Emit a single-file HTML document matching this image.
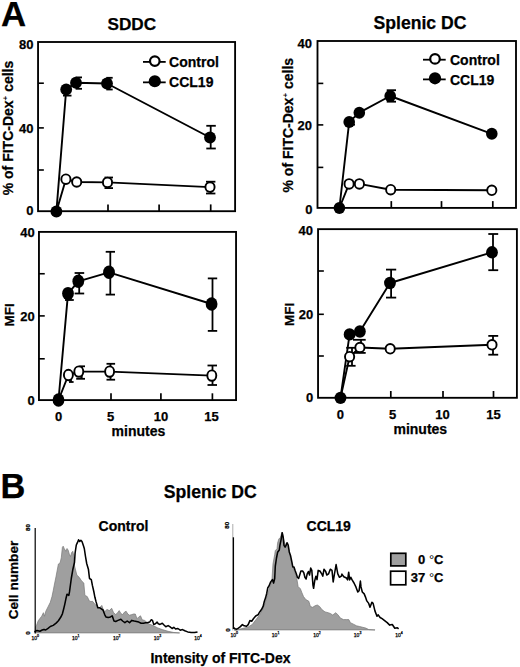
<!DOCTYPE html>
<html><head><meta charset="utf-8"><style>
html,body{margin:0;padding:0;background:#fff;}
body{width:520px;height:667px;overflow:hidden;}
svg{display:block;}
</style></head><body>
<svg width="520" height="667" viewBox="0 0 520 667">
<g font-family='"Liberation Sans", sans-serif' fill="#000">
<style>text{stroke:#000;stroke-width:0.25px;paint-order:stroke;}</style>
<text x="1.0" y="25.8" font-size="34.8" text-anchor="start" font-weight="bold">A</text>
<text x="0.6" y="498.3" font-size="34.4" text-anchor="start" font-weight="bold">B</text>
<text x="131.8" y="30" font-size="17.2" text-anchor="middle" font-weight="bold">SDDC</text>
<text x="420" y="28.6" font-size="17.6" text-anchor="middle" font-weight="bold">Splenic DC</text>
<line x1="38.05" y1="170" x2="43.849999999999994" y2="170" stroke="#000" stroke-width="1.6"/>
<line x1="38.05" y1="127.9" x2="43.849999999999994" y2="127.9" stroke="#000" stroke-width="1.6"/>
<line x1="38.05" y1="83.2" x2="43.849999999999994" y2="83.2" stroke="#000" stroke-width="1.6"/>
<line x1="108" y1="211.2" x2="108" y2="204.39999999999998" stroke="#000" stroke-width="1.7"/>
<line x1="159.1" y1="211.2" x2="159.1" y2="204.39999999999998" stroke="#000" stroke-width="1.7"/>
<line x1="210.7" y1="211.2" x2="210.7" y2="204.39999999999998" stroke="#000" stroke-width="1.7"/>
<rect x="38.05" y="42" width="197.05" height="169.20" fill="none" stroke="#000" stroke-width="1.85"/>
<text x="33.5" y="48.6" font-size="13" text-anchor="end" font-weight="bold">80</text>
<text x="33.5" y="132.7" font-size="13" text-anchor="end" font-weight="bold">40</text>
<text x="33.5" y="215.4" font-size="13" text-anchor="end" font-weight="bold">0</text>
<line x1="67" y1="84" x2="67" y2="95.6" stroke="#000" stroke-width="1.8"/>
<line x1="63" y1="95.6" x2="71.5" y2="95.6" stroke="#000" stroke-width="1.8"/>
<line x1="78" y1="77.4" x2="78" y2="88.8" stroke="#000" stroke-width="1.8"/>
<line x1="75.6" y1="77.4" x2="82" y2="77.4" stroke="#000" stroke-width="1.8"/>
<line x1="75.6" y1="88.8" x2="82" y2="88.8" stroke="#000" stroke-width="1.8"/>
<line x1="109.5" y1="77.8" x2="109.5" y2="89.5" stroke="#000" stroke-width="1.8"/>
<line x1="106.3" y1="77.8" x2="112.7" y2="77.8" stroke="#000" stroke-width="1.8"/>
<line x1="106.3" y1="89.5" x2="112.7" y2="89.5" stroke="#000" stroke-width="1.8"/>
<line x1="210.7" y1="125.8" x2="210.7" y2="148.5" stroke="#000" stroke-width="1.8"/>
<line x1="206.3" y1="125.8" x2="215.8" y2="125.8" stroke="#000" stroke-width="1.8"/>
<line x1="206.3" y1="148.5" x2="215.8" y2="148.5" stroke="#000" stroke-width="1.8"/>
<line x1="108.5" y1="177.5" x2="108.5" y2="188.1" stroke="#000" stroke-width="1.8"/>
<line x1="104.5" y1="177.5" x2="113" y2="177.5" stroke="#000" stroke-width="1.8"/>
<line x1="104.5" y1="188.1" x2="113" y2="188.1" stroke="#000" stroke-width="1.8"/>
<line x1="210.7" y1="181.7" x2="210.7" y2="193.5" stroke="#000" stroke-width="1.8"/>
<line x1="206" y1="181.7" x2="215.4" y2="181.7" stroke="#000" stroke-width="1.8"/>
<line x1="206" y1="193.5" x2="215.4" y2="193.5" stroke="#000" stroke-width="1.8"/>
<polyline points="56.4,211.4 65.9,179.2 76.7,182 107.5,182.4 210,187.1" fill="none" stroke="#000" stroke-width="1.9" stroke-linejoin="round"/>
<polyline points="56.4,211.4 66.2,89.5 76,82.8 107,83.5 210,137.5" fill="none" stroke="#000" stroke-width="1.9" stroke-linejoin="round"/>
<ellipse cx="65.9" cy="179.2" rx="4.6" ry="4.8" fill="#fff" stroke="#000" stroke-width="1.9"/>
<ellipse cx="76.7" cy="182" rx="4.6" ry="4.8" fill="#fff" stroke="#000" stroke-width="1.9"/>
<ellipse cx="107.5" cy="182.4" rx="4.6" ry="4.8" fill="#fff" stroke="#000" stroke-width="1.9"/>
<ellipse cx="210" cy="187.1" rx="4.6" ry="4.8" fill="#fff" stroke="#000" stroke-width="1.9"/>
<ellipse cx="56.4" cy="211.4" rx="5.9" ry="6.0" fill="#000"/>
<ellipse cx="66.2" cy="89.5" rx="5.9" ry="6.0" fill="#000"/>
<ellipse cx="76" cy="82.8" rx="5.9" ry="6.0" fill="#000"/>
<ellipse cx="107" cy="83.5" rx="5.9" ry="6.0" fill="#000"/>
<ellipse cx="210" cy="137.5" rx="5.9" ry="6.0" fill="#000"/>
<line x1="317.5" y1="167.4" x2="323.3" y2="167.4" stroke="#000" stroke-width="1.6"/>
<line x1="317.5" y1="124.9" x2="323.3" y2="124.9" stroke="#000" stroke-width="1.6"/>
<line x1="317.5" y1="83.4" x2="323.3" y2="83.4" stroke="#000" stroke-width="1.6"/>
<line x1="391.3" y1="207.9" x2="391.3" y2="201.1" stroke="#000" stroke-width="1.7"/>
<line x1="441.5" y1="207.9" x2="441.5" y2="201.1" stroke="#000" stroke-width="1.7"/>
<line x1="492.8" y1="207.9" x2="492.8" y2="201.1" stroke="#000" stroke-width="1.7"/>
<rect x="317.5" y="41" width="198.50" height="166.90" fill="none" stroke="#000" stroke-width="1.85"/>
<text x="312" y="47.6" font-size="13" text-anchor="end" font-weight="bold">40</text>
<text x="312" y="130" font-size="13" text-anchor="end" font-weight="bold">20</text>
<text x="312.6" y="213.5" font-size="13" text-anchor="end" font-weight="bold">0</text>
<line x1="391.5" y1="90.2" x2="391.5" y2="101.7" stroke="#000" stroke-width="1.8"/>
<line x1="386.7" y1="90.2" x2="396" y2="90.2" stroke="#000" stroke-width="1.8"/>
<line x1="386.7" y1="101.7" x2="396" y2="101.7" stroke="#000" stroke-width="1.8"/>
<line x1="351" y1="118" x2="351" y2="124.7" stroke="#000" stroke-width="1.8"/>
<line x1="351.5" y1="124.7" x2="355" y2="124.7" stroke="#000" stroke-width="1.8"/>
<polyline points="339.4,208 349.1,183.9 359.4,183.9 390.7,189.7 491.8,190.3" fill="none" stroke="#000" stroke-width="1.9" stroke-linejoin="round"/>
<polyline points="339.4,208 349.2,121.9 359.3,112.7 390.2,96 491.8,133.8" fill="none" stroke="#000" stroke-width="1.9" stroke-linejoin="round"/>
<ellipse cx="349.1" cy="183.9" rx="4.6" ry="4.8" fill="#fff" stroke="#000" stroke-width="1.9"/>
<ellipse cx="359.4" cy="183.9" rx="4.6" ry="4.8" fill="#fff" stroke="#000" stroke-width="1.9"/>
<ellipse cx="390.7" cy="189.7" rx="4.6" ry="4.8" fill="#fff" stroke="#000" stroke-width="1.9"/>
<ellipse cx="491.8" cy="190.3" rx="4.6" ry="4.8" fill="#fff" stroke="#000" stroke-width="1.9"/>
<ellipse cx="339.4" cy="208" rx="5.8" ry="6.0" fill="#000"/>
<ellipse cx="349.2" cy="121.9" rx="5.8" ry="6.0" fill="#000"/>
<ellipse cx="359.3" cy="112.7" rx="5.8" ry="6.0" fill="#000"/>
<ellipse cx="390.2" cy="96" rx="5.8" ry="6.0" fill="#000"/>
<ellipse cx="491.8" cy="133.8" rx="5.8" ry="6.0" fill="#000"/>
<line x1="38.95" y1="358.8" x2="44.75" y2="358.8" stroke="#000" stroke-width="1.6"/>
<line x1="38.95" y1="315.9" x2="44.75" y2="315.9" stroke="#000" stroke-width="1.6"/>
<line x1="38.95" y1="273.75" x2="44.75" y2="273.75" stroke="#000" stroke-width="1.6"/>
<line x1="111" y1="400.1" x2="111" y2="393.3" stroke="#000" stroke-width="1.7"/>
<line x1="160.9" y1="400.1" x2="160.9" y2="393.3" stroke="#000" stroke-width="1.7"/>
<line x1="212.4" y1="400.1" x2="212.4" y2="393.3" stroke="#000" stroke-width="1.7"/>
<rect x="38.95" y="231.9" width="197.10" height="168.20" fill="none" stroke="#000" stroke-width="1.85"/>
<text x="34.8" y="237" font-size="13" text-anchor="end" font-weight="bold">40</text>
<text x="34.8" y="321" font-size="13" text-anchor="end" font-weight="bold">20</text>
<text x="34.8" y="405.3" font-size="13" text-anchor="end" font-weight="bold">0</text>
<line x1="69.4" y1="290" x2="69.4" y2="300" stroke="#000" stroke-width="1.8"/>
<line x1="65" y1="300" x2="73.8" y2="300" stroke="#000" stroke-width="1.8"/>
<line x1="79.2" y1="273" x2="79.2" y2="293.5" stroke="#000" stroke-width="1.8"/>
<line x1="74.6" y1="273" x2="84.2" y2="273" stroke="#000" stroke-width="1.8"/>
<line x1="74.6" y1="293.5" x2="84.2" y2="293.5" stroke="#000" stroke-width="1.8"/>
<line x1="110.3" y1="251.8" x2="110.3" y2="294.6" stroke="#000" stroke-width="1.8"/>
<line x1="105.7" y1="251.8" x2="115" y2="251.8" stroke="#000" stroke-width="1.8"/>
<line x1="105.7" y1="294.6" x2="115" y2="294.6" stroke="#000" stroke-width="1.8"/>
<line x1="212.5" y1="278.4" x2="212.5" y2="330.9" stroke="#000" stroke-width="1.8"/>
<line x1="207.8" y1="278.4" x2="217.2" y2="278.4" stroke="#000" stroke-width="1.8"/>
<line x1="207.8" y1="330.9" x2="217.2" y2="330.9" stroke="#000" stroke-width="1.8"/>
<line x1="71" y1="375" x2="71" y2="382" stroke="#000" stroke-width="1.8"/>
<line x1="69" y1="382" x2="73.6" y2="382" stroke="#000" stroke-width="1.8"/>
<line x1="81.5" y1="366.3" x2="81.5" y2="378.8" stroke="#000" stroke-width="1.8"/>
<line x1="79.3" y1="366.3" x2="85" y2="366.3" stroke="#000" stroke-width="1.8"/>
<line x1="81.5" y1="366.3" x2="81.5" y2="378.8" stroke="#000" stroke-width="1.8"/>
<line x1="76.2" y1="378.8" x2="85" y2="378.8" stroke="#000" stroke-width="1.8"/>
<line x1="110.5" y1="363.8" x2="110.5" y2="379.7" stroke="#000" stroke-width="1.8"/>
<line x1="106.5" y1="363.8" x2="115.1" y2="363.8" stroke="#000" stroke-width="1.8"/>
<line x1="106.5" y1="379.7" x2="115.1" y2="379.7" stroke="#000" stroke-width="1.8"/>
<line x1="212.5" y1="365.5" x2="212.5" y2="385" stroke="#000" stroke-width="1.8"/>
<line x1="207.5" y1="365.5" x2="217" y2="365.5" stroke="#000" stroke-width="1.8"/>
<line x1="207.5" y1="385" x2="217" y2="385" stroke="#000" stroke-width="1.8"/>
<polyline points="58.5,400 68.4,375 78.8,371.6 109.6,371.6 211.8,375.6" fill="none" stroke="#000" stroke-width="1.9" stroke-linejoin="round"/>
<polyline points="58.5,400 68,293.6 78.3,281.3 109,272.3 211.6,304" fill="none" stroke="#000" stroke-width="1.9" stroke-linejoin="round"/>
<ellipse cx="68.4" cy="375" rx="4.5" ry="5.2" fill="#fff" stroke="#000" stroke-width="1.9"/>
<ellipse cx="78.8" cy="371.6" rx="4.5" ry="5.2" fill="#fff" stroke="#000" stroke-width="1.9"/>
<ellipse cx="109.6" cy="371.6" rx="4.5" ry="5.2" fill="#fff" stroke="#000" stroke-width="1.9"/>
<ellipse cx="211.8" cy="375.6" rx="4.5" ry="5.2" fill="#fff" stroke="#000" stroke-width="1.9"/>
<ellipse cx="58.5" cy="400" rx="5.9" ry="6.7" fill="#000"/>
<ellipse cx="68" cy="293.6" rx="5.9" ry="6.7" fill="#000"/>
<ellipse cx="78.3" cy="281.3" rx="5.9" ry="6.7" fill="#000"/>
<ellipse cx="109" cy="272.3" rx="5.9" ry="6.7" fill="#000"/>
<ellipse cx="211.6" cy="304" rx="5.9" ry="6.7" fill="#000"/>
<line x1="318.05" y1="356" x2="323.85" y2="356" stroke="#000" stroke-width="1.6"/>
<line x1="318.05" y1="314.3" x2="323.85" y2="314.3" stroke="#000" stroke-width="1.6"/>
<line x1="318.05" y1="271" x2="323.85" y2="271" stroke="#000" stroke-width="1.6"/>
<line x1="390.8" y1="397.8" x2="390.8" y2="391.0" stroke="#000" stroke-width="1.7"/>
<line x1="443" y1="397.8" x2="443" y2="391.0" stroke="#000" stroke-width="1.7"/>
<line x1="493.5" y1="397.8" x2="493.5" y2="391.0" stroke="#000" stroke-width="1.7"/>
<rect x="318.05" y="229.15" width="198.85" height="168.65" fill="none" stroke="#000" stroke-width="1.85"/>
<text x="313" y="235.4" font-size="13" text-anchor="end" font-weight="bold">40</text>
<text x="313.3" y="319.2" font-size="13" text-anchor="end" font-weight="bold">20</text>
<text x="313.3" y="402.1" font-size="13" text-anchor="end" font-weight="bold">0</text>
<line x1="391.1" y1="269.6" x2="391.1" y2="297.6" stroke="#000" stroke-width="1.8"/>
<line x1="386" y1="269.6" x2="396.2" y2="269.6" stroke="#000" stroke-width="1.8"/>
<line x1="386" y1="297.6" x2="396.2" y2="297.6" stroke="#000" stroke-width="1.8"/>
<line x1="493" y1="234" x2="493" y2="270.2" stroke="#000" stroke-width="1.8"/>
<line x1="488.3" y1="234" x2="498.2" y2="234" stroke="#000" stroke-width="1.8"/>
<line x1="488.3" y1="270.2" x2="498.2" y2="270.2" stroke="#000" stroke-width="1.8"/>
<line x1="352" y1="347.8" x2="352" y2="365.8" stroke="#000" stroke-width="1.8"/>
<line x1="346.2" y1="347.8" x2="355.6" y2="347.8" stroke="#000" stroke-width="1.8"/>
<line x1="346.2" y1="365.8" x2="355.6" y2="365.8" stroke="#000" stroke-width="1.8"/>
<line x1="361" y1="339.8" x2="361" y2="352.9" stroke="#000" stroke-width="1.8"/>
<line x1="353" y1="339.8" x2="365.7" y2="339.8" stroke="#000" stroke-width="1.8"/>
<line x1="353" y1="352.9" x2="365.7" y2="352.9" stroke="#000" stroke-width="1.8"/>
<line x1="493" y1="335.9" x2="493" y2="354.7" stroke="#000" stroke-width="1.8"/>
<line x1="488.3" y1="335.9" x2="498.2" y2="335.9" stroke="#000" stroke-width="1.8"/>
<line x1="488.3" y1="354.7" x2="498.2" y2="354.7" stroke="#000" stroke-width="1.8"/>
<polyline points="340.5,397.9 349.6,356.7 359.9,347.5 390.2,348.8 492,344.8" fill="none" stroke="#000" stroke-width="1.9" stroke-linejoin="round"/>
<polyline points="340.5,397.9 349.6,334.4 359.9,331.5 390,283 492,252.3" fill="none" stroke="#000" stroke-width="1.9" stroke-linejoin="round"/>
<ellipse cx="349.6" cy="356.7" rx="4.6" ry="4.8" fill="#fff" stroke="#000" stroke-width="1.9"/>
<ellipse cx="359.9" cy="347.5" rx="4.6" ry="4.8" fill="#fff" stroke="#000" stroke-width="1.9"/>
<ellipse cx="390.2" cy="348.8" rx="4.6" ry="4.8" fill="#fff" stroke="#000" stroke-width="1.9"/>
<ellipse cx="492" cy="344.8" rx="4.6" ry="4.8" fill="#fff" stroke="#000" stroke-width="1.9"/>
<ellipse cx="340.5" cy="397.9" rx="5.9" ry="6.2" fill="#000"/>
<ellipse cx="349.6" cy="334.4" rx="5.9" ry="6.2" fill="#000"/>
<ellipse cx="359.9" cy="331.5" rx="5.9" ry="6.2" fill="#000"/>
<ellipse cx="390" cy="283" rx="5.9" ry="6.2" fill="#000"/>
<ellipse cx="492" cy="252.3" rx="5.9" ry="6.2" fill="#000"/>
<text x="58.6" y="420.7" font-size="13" text-anchor="middle" font-weight="bold">0</text>
<text x="110.7" y="420.7" font-size="13" text-anchor="middle" font-weight="bold">5</text>
<text x="161" y="420.7" font-size="13" text-anchor="middle" font-weight="bold">10</text>
<text x="211.6" y="420.7" font-size="13" text-anchor="middle" font-weight="bold">15</text>
<text x="340.4" y="418.7" font-size="13" text-anchor="middle" font-weight="bold">0</text>
<text x="392.6" y="418.7" font-size="13" text-anchor="middle" font-weight="bold">5</text>
<text x="442.6" y="418.7" font-size="13" text-anchor="middle" font-weight="bold">10</text>
<text x="493.5" y="418.7" font-size="13" text-anchor="middle" font-weight="bold">15</text>
<text x="138.4" y="436.3" font-size="14" text-anchor="middle" font-weight="bold">minutes</text>
<text x="420.3" y="433.5" font-size="14" text-anchor="middle" font-weight="bold">minutes</text>
<text x="13" y="128" font-size="14" font-weight="bold" text-anchor="middle" transform="rotate(-90 13 128)">% of FITC-Dex<tspan font-size="8" dy="-5" style="stroke-width:0">+</tspan><tspan dy="5"> cells</tspan></text>
<text x="292.6" y="125.2" font-size="14" font-weight="bold" text-anchor="middle" transform="rotate(-90 292.6 125.2)">% of FITC-Dex<tspan font-size="8" dy="-5" style="stroke-width:0">+</tspan><tspan dy="5"> cells</tspan></text>
<text x="13.9" y="314.9" font-size="13.5" text-anchor="middle" font-weight="bold" transform="rotate(-90 13.9 314.9)">MFI</text>
<text x="294.5" y="314.4" font-size="13.5" text-anchor="middle" font-weight="bold" transform="rotate(-90 294.5 314.4)">MFI</text>
<line x1="143" y1="61.9" x2="165.7" y2="61.9" stroke="#000" stroke-width="1.8"/>
<ellipse cx="154.8" cy="61.1" rx="4.8" ry="4.8" fill="#fff" stroke="#000" stroke-width="2.2"/>
<text x="169.1" y="66.6" font-size="14" text-anchor="start" font-weight="bold">Control</text>
<line x1="143" y1="82.35" x2="165.7" y2="82.35" stroke="#000" stroke-width="1.8"/>
<ellipse cx="154.8" cy="81.25" rx="6.1" ry="6.1" fill="#000"/>
<text x="169.1" y="86.5" font-size="14" text-anchor="start" font-weight="bold">CCL19</text>
<line x1="423" y1="59.699999999999996" x2="445.7" y2="59.699999999999996" stroke="#000" stroke-width="1.8"/>
<ellipse cx="435" cy="58.9" rx="4.8" ry="4.8" fill="#fff" stroke="#000" stroke-width="2.2"/>
<text x="450" y="65" font-size="14" text-anchor="start" font-weight="bold">Control</text>
<line x1="423" y1="79.39999999999999" x2="445.7" y2="79.39999999999999" stroke="#000" stroke-width="1.8"/>
<ellipse cx="435" cy="78.3" rx="6.1" ry="6.1" fill="#000"/>
<text x="450" y="84.6" font-size="14" text-anchor="start" font-weight="bold">CCL19</text>
<text x="210.3" y="497.9" font-size="17.6" text-anchor="middle" font-weight="bold">Splenic DC</text>
<text x="123.5" y="530.7" font-size="14" text-anchor="middle" font-weight="bold">Control</text>
<text x="328.7" y="530.6" font-size="14" text-anchor="middle" font-weight="bold">CCL19</text>
<text x="18" y="580" font-size="13.6" text-anchor="middle" font-weight="bold" transform="rotate(-90 18 580)">Cell number</text>
<text x="220.5" y="663" font-size="14" text-anchor="middle" font-weight="bold">Intensity of FITC-Dex</text>
<polygon points="35.3,632.9 35.3,632.8 35.5,626.5 36.5,625.4 38.2,620.8 39.9,618.5 41.7,616.2 43.4,612.7 44.5,616.2 45.7,611.5 48,606.9 50.3,602.3 52,596.5 53.2,590.8 54.3,585 56.1,576.2 58.4,564 60.1,562.9 61.3,557.7 62.4,547.3 63.2,546.2 64.2,548.5 65.9,551.3 67,548.5 68.2,550.2 69.3,554.2 70.5,556.5 71.7,552.5 72.8,551.3 73.8,556 74.5,565.8 76.8,575 79.2,577.3 81.5,580.8 83.8,583 84.9,595.4 87.2,596.5 89.5,601.2 91,601.5 92.6,601.3 94.9,604.2 97.2,606 99,608.3 100.7,606.5 101.8,605.4 103,608.8 104.7,611.7 107,609.4 109.3,610.6 111.7,608.3 113.4,612.3 115.7,614.6 117.4,612.9 119.2,610.6 120.9,613.5 122.6,614.6 124.3,612.3 126.1,611.2 127.8,614 129.5,615.2 131.8,614.6 133.6,614 135.3,614 137,618.7 138.8,616.9 140.5,615.8 142.2,619.8 144.5,620.4 146.8,622.1 148.5,623.8 153.1,625.6 157.7,627.9 162.3,629.6 168.1,631.3 173.8,632.5 179.6,633 179.6,633 179.6,632.9" fill="#9f9f9f" stroke="#777" stroke-width="0.7"/>
<line x1="35.2" y1="528" x2="35.2" y2="633.4" stroke="#000" stroke-width="1.2"/>
<polyline points="34.7,632.3 35.3,631.2 37,630.6 39.9,631.2 42.2,630 44,629.4 45.7,630 48,628.3 50.3,626.5 53.2,625.4 56.1,623.1 58.4,620.8 60.7,617.3 62.4,613.8 63.6,609.2 64.7,604.6 65.9,598.8 67,594.2 68.8,595.4 69.5,591.9 70.1,587.3 71.3,578.5 72.9,569.2 74.5,562.3 75.1,553 76.3,545 77.4,542.7 78.6,539.8 79.7,541.5 80.9,540.4 82,541.5 83.2,545 84.3,548.5 85.5,556.5 86.7,563.5 88.4,569.2 89.5,578.5 91.3,579.6 92.4,585.4 93.8,591.5 94.9,597.3 96.1,601.9 97.8,607.7 99.5,607.7 101.3,608.8 103,610 104.7,614.6 105.9,616.9 108.2,617.5 110.5,616.9 112.2,615.8 114,621 115.7,621.5 118,620.4 120.9,619.2 122.6,621 124.9,622.7 127.2,621 129.5,622.7 131.8,620.4 134.2,621 136.5,621.5 138.8,622.1 141.1,623.3 143.4,623.3 145.7,622.7 147.3,622.7 149.6,622.1 151.3,619.8 152.5,620.4 153.7,624.4 155.4,623.8 157.1,622.1 158.3,623.8 160,624.4 162.3,623.3 164,625 165.8,626.7 168.1,625.6 169.8,626.7 172.1,628.5 173.8,627.3 175.6,629 177.9,628.5 180.2,630.2 182.5,629.6 184.8,630.8 187.7,631.9 191.2,632.5 194.6,632.5 197.5,631.9" fill="none" stroke="#000" stroke-width="1.55" stroke-linejoin="round"/>
<polygon points="234,629.9 234,629.8 236,630.4 239.5,629.2 244.2,628.1 248.2,626.9 252.2,624.6 255.7,620 259.2,615.4 262.6,609.6 264.9,603.8 267.2,595.8 269.5,587.7 271.8,581.9 273,563.8 274.7,554.6 275.3,550.6 277,548.8 277.6,543.1 278.8,539 280.5,537.3 281.7,532.7 282.2,532.1 283.4,537.3 284.5,543.1 285.7,544.2 286.8,544 288,547 289.9,555.4 292.2,564.6 294.5,571.5 296.8,578.5 298.1,586.5 300.4,588.8 301.9,592.7 303.5,596.5 305.8,599.6 308.8,601.2 310.4,606.5 312.7,607.3 315,605.8 317.3,605 319.6,606.5 321.9,609.6 325,611.9 328.1,612.7 330.4,613.5 332.7,615 335.8,612.7 338.1,615 340.4,618.1 343.5,619.6 346.5,619.6 348.8,619.6 350.4,622.7 353.5,624.2 356.5,625.8 359.6,626.5 362.7,627.3 365.8,628.1 368.8,629.6 375,630 375,629.9" fill="#9f9f9f" stroke="#777" stroke-width="0.7"/>
<line x1="232.8" y1="524" x2="232.8" y2="630.4" stroke="#8a8a8a" stroke-width="0.7"/>
<polyline points="233.9,628 234.3,628 234.9,628.7 236.7,629.2 238.4,628.1 240.1,626.9 242.4,624.6 244.2,625.8 246.5,626.3 248.2,624.6 249.9,620.6 251.7,621.2 253.4,618.8 255.7,616 258,614.8 259.7,611.9 261.5,609.6 263.2,606.2 264.3,601.5 265.5,598.1 266.7,593.5 267.8,587.7 269,586 270.7,581.9 272.4,579.6 273.6,583.1 274.7,578.5 275.3,566.2 276.5,558 277.6,552.3 279.3,550 279.9,545.4 281.1,539.6 282.2,532.7 283.2,537.3 284,545.4 285.1,547.1 286.3,544.8 287,542.7 288.2,545 289.3,551.9 290.5,555.4 291.7,561.2 292.8,566.9 294,566.9 295.1,570.4 296.3,573.8 297.4,577.3 298.6,578.5 299.7,575 300.9,571 302.6,571 303.8,572.7 304.9,577.3 306.1,579 307.2,573.8 308.4,571.5 309.5,575 310.7,568.1 311.8,570.4 313,585.4 313.6,588.3 314.7,580.8 315.9,576.2 317,579.6 318.2,570.4 319.9,571 321.7,573.8 322.8,576.2 324,569.2 325.7,571.5 326.8,575 328.6,573.8 330.3,569.2 332,570.4 333.2,581.9 334.3,575 336.1,564.6 337.8,573.8 339.5,577.3 341.3,576.2 341.9,574.1 343.8,576.7 346.4,578 347.6,579.9 348.7,572.2 349.6,579.9 350.8,577.3 352.1,579.9 354,583 355.9,586.9 357.8,592 359.1,590.7 360.4,581.1 361,586.9 362.3,592 364.2,593.9 365.5,597.1 366.8,600.9 368.7,603.4 370,607.3 371.9,602.2 373.1,603.4 375,611.1 377,616.2 378.2,614.9 380.1,617.5 382.1,618.7 384.6,620.6 387.2,622.6 389.7,625.1 392.3,624.5 394.8,628.3 397.4,627.7 398.6,628.9" fill="none" stroke="#000" stroke-width="1.55" stroke-linejoin="round"/>
<line x1="233.4" y1="537.3" x2="233.4" y2="629" stroke="#000" stroke-width="1.3"/>
<text x="35.2" y="639.6" font-size="5" font-weight="normal" text-anchor="middle">10<tspan font-size="3.5" dy="-2.2">0</tspan></text>
<text x="75.8" y="639.6" font-size="5" font-weight="normal" text-anchor="middle">10<tspan font-size="3.5" dy="-2.2">1</tspan></text>
<text x="116.7" y="639.6" font-size="5" font-weight="normal" text-anchor="middle">10<tspan font-size="3.5" dy="-2.2">2</tspan></text>
<text x="157.4" y="639.6" font-size="5" font-weight="normal" text-anchor="middle">10<tspan font-size="3.5" dy="-2.2">3</tspan></text>
<text x="198" y="639.6" font-size="5" font-weight="normal" text-anchor="middle">10<tspan font-size="3.5" dy="-2.2">4</tspan></text>
<text x="234.2" y="636.6" font-size="5" font-weight="normal" text-anchor="middle">10<tspan font-size="3.5" dy="-2.2">0</tspan></text>
<text x="275.6" y="636.6" font-size="5" font-weight="normal" text-anchor="middle">10<tspan font-size="3.5" dy="-2.2">1</tspan></text>
<text x="317" y="636.6" font-size="5" font-weight="normal" text-anchor="middle">10<tspan font-size="3.5" dy="-2.2">2</tspan></text>
<text x="357.6" y="636.6" font-size="5" font-weight="normal" text-anchor="middle">10<tspan font-size="3.5" dy="-2.2">3</tspan></text>
<text x="399" y="636.6" font-size="5" font-weight="normal" text-anchor="middle">10<tspan font-size="3.5" dy="-2.2">4</tspan></text>
<text x="29.5" y="527.5" font-size="6.2" font-weight="bold" text-anchor="middle" transform="rotate(-90 29.5 527.5)">80</text>
<text x="29.6" y="633" font-size="6.2" font-weight="bold" text-anchor="middle" transform="rotate(-90 29.6 633)">0</text>
<text x="229.5" y="525.3" font-size="6.2" font-weight="bold" text-anchor="middle" transform="rotate(-90 229.5 525.3)">80</text>
<text x="229.6" y="630" font-size="6.2" font-weight="bold" text-anchor="middle" transform="rotate(-90 229.6 630)">0</text>
<rect x="390.8" y="553.3" width="15" height="12.6" fill="#9f9f9f" stroke="#000" stroke-width="1.7"/>
<rect x="390.6" y="571.2" width="15.2" height="13.6" fill="#fff" stroke="#000" stroke-width="1.7"/>
<text x="443.5" y="564" font-size="13" text-anchor="end" font-weight="bold">0 <tspan font-weight="normal" style="stroke-width:0">°</tspan>C</text>
<text x="443.5" y="582.2" font-size="13" text-anchor="end" font-weight="bold">37 <tspan font-weight="normal" style="stroke-width:0">°</tspan>C</text>
</g></svg>
</body></html>
